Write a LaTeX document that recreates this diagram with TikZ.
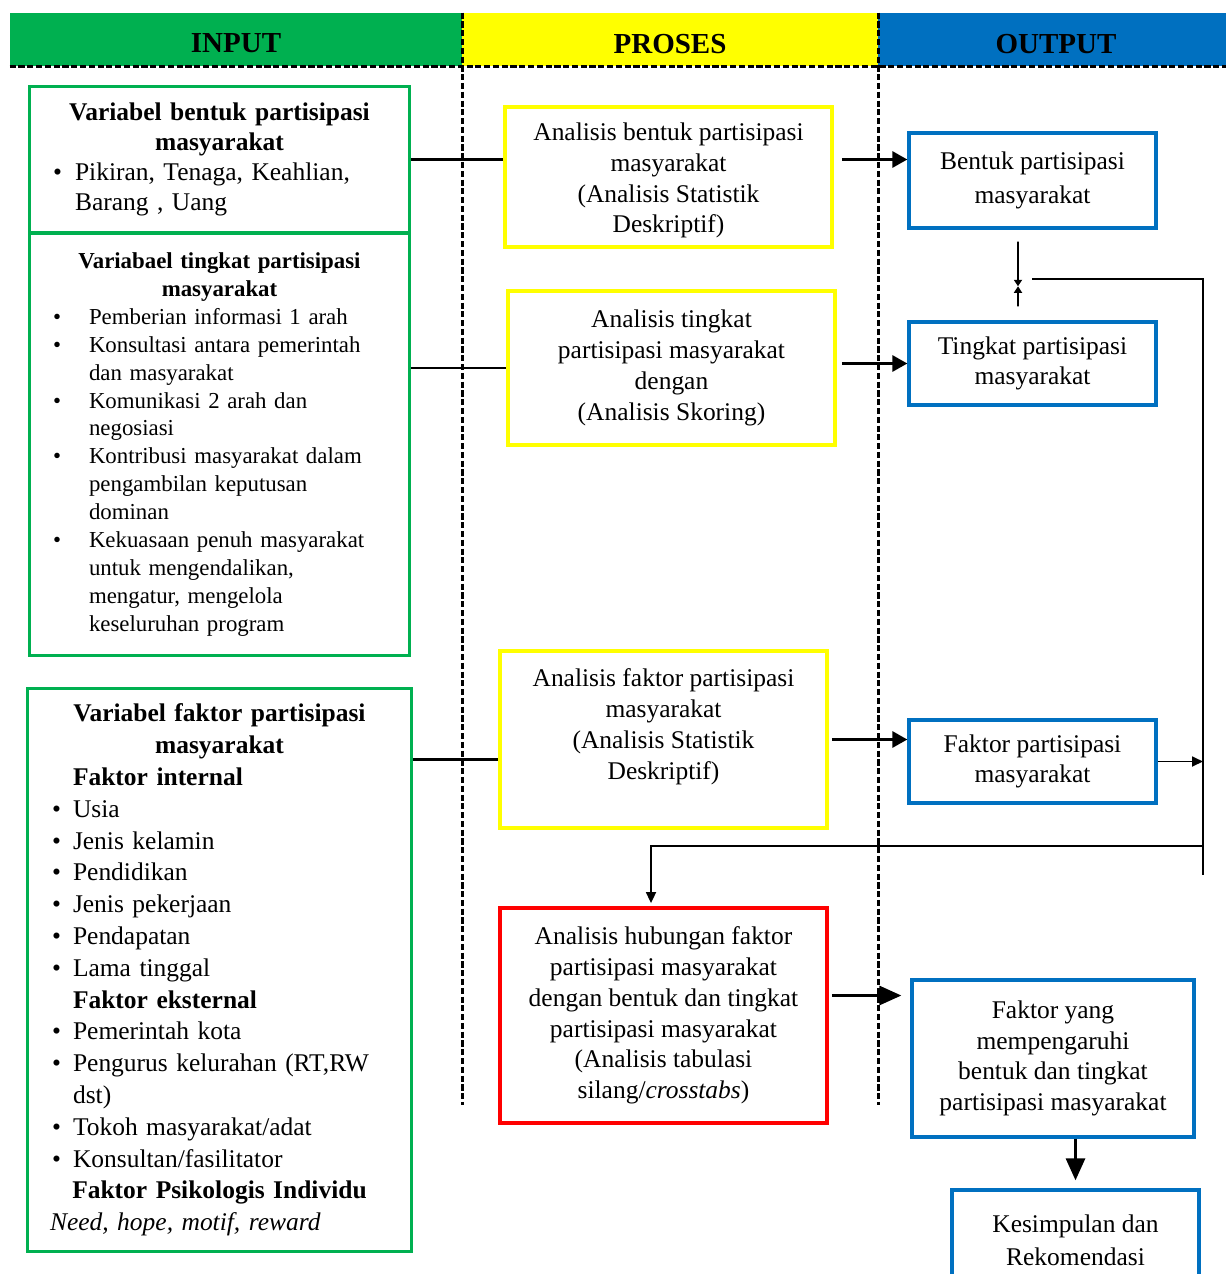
\documentclass[tikz,border=0pt]{standalone}
\usepackage{fontspec}
\setmainfont{Liberation Serif}
\usetikzlibrary{arrows.meta,calc}

\definecolor{inGreen}{HTML}{00B050}
\definecolor{proYellow}{HTML}{FFFF00}
\definecolor{outBlue}{HTML}{0070C0}
\definecolor{hubRed}{HTML}{FF0000}

\newcommand{\itm}[1]{\hspace*{\bulx}\rlap{\textbullet}\hspace*{\dimexpr\txtx-\bulx\relax}#1}
\newcommand{\indt}{\hspace*{\txtx}}
\newcommand{\ttl}[1]{\makebox[\linewidth]{\bfseries #1}}
\newcommand{\hlow}[2]{\raisebox{-#1}[\height][\depth]{#2}}

\begin{document}
\begin{tikzpicture}[x=0.02cm,y=-0.02cm,
		hdr/.style={minimum width=#1,minimum height=1.06cm,inner sep=0pt,font=\fontsize{16.5}{19}\selectfont\bfseries},
		varbox/.style={draw=inGreen,line width=1.7pt,inner xsep=0pt,inner ysep=0pt,align=left},
		list/.style 2 args={execute at begin node={\def\bulx{#1}\def\txtx{#2}}},
		probox/.style={draw=proYellow,line width=2.2pt,minimum width=6.54cm,align=center,font=\fontsize{14.5}{17.5}\selectfont},
		outbox/.style={draw=outBlue,line width=1.9pt,align=center,font=\fontsize{14.5}{17.5}\selectfont},
		colline/.style={line width=1.6pt,dash pattern=on 3.5pt off 1.5pt},
		link/.style={line width=1.7pt},
		arr/.style={link,-{Triangle[length=0.3cm,width=0.32cm]}},
		bigarr/.style={link,-{Triangle[length=0.44cm,width=0.38cm]}},
		back/.style={line width=1pt},
		backarr/.style={back,-{Triangle[length=0.22cm,width=0.2cm]}},
		meet/.style={back,-{Triangle[length=0.13cm,width=0.16cm]}}]

	\useasboundingbox (0,0) rectangle (1226,1274);
	\clip (0,0) rectangle (1226,1274);

	\node[hdr=9.04cm,fill=inGreen] (hIn) at (236,39.5) {\hlow{0.07cm}{INPUT}};
	\node[hdr=8.32cm,fill=proYellow] (hPro) at (670,39.5) {\hlow{0.1cm}{PROSES}};
	\node[hdr=6.96cm,fill=outBlue] (hOut) at (1052,39.5) {\hlow{0.1cm}{\hspace*{0.16cm}OUTPUT}};
	\draw[colline] (hIn.south west) -- (hOut.south east);
	\draw[colline] (hIn.north east) -- ++(0,1092);
	\draw[colline] (hPro.north east) -- ++(0,1092);

	\node[varbox,list={0.48cm}{0.92cm},text width=7.62cm,minimum height=2.94cm,
		font=\fontsize{14.5}{17}\selectfont] (vBentuk) at (219.5,159.5) {%
		\ttl{Variabel bentuk partisipasi}\\
		\ttl{masyarakat}\\
		\itm{Pikiran, Tenaga, Keahlian,}\\
		\indt Barang , Uang};
	\node[varbox,list={0.48cm}{1.2cm},text width=7.62cm,minimum height=8.46cm,
		font=\fontsize{13}{15.9}\selectfont] (vTingkat) at (219.5,444.5) {%
		\ttl{Variabael tingkat partisipasi}\\
		\ttl{masyarakat}\\
		\itm{Pemberian informasi 1 arah}\\
		\itm{Konsultasi antara pemerintah}\\
		\indt dan masyarakat\\
		\itm{Komunikasi 2 arah dan}\\
		\indt negosiasi\\
		\itm{Kontribusi masyarakat dalam}\\
		\indt pengambilan keputusan\\
		\indt dominan\\
		\itm{Kekuasaan penuh masyarakat}\\
		\indt untuk mengendalikan,\\
		\indt mengatur, mengelola\\
		\indt keseluruhan program};
	\node[varbox,list={0.5cm}{0.92cm},text width=7.7cm,minimum height=11.28cm,
		font=\fontsize{14.5}{18.1}\selectfont] (vFaktor) at (219.5,970) {%
		\ttl{Variabel faktor partisipasi}\\
		\ttl{masyarakat}\\
		\indt\textbf{Faktor internal}\\
		\itm{Usia}\\
		\itm{Jenis kelamin}\\
		\itm{Pendidikan}\\
		\itm{Jenis pekerjaan}\\
		\itm{Pendapatan}\\
		\itm{Lama tinggal}\\
		\indt\textbf{Faktor eksternal}\\
		\itm{Pemerintah kota}\\
		\itm{Pengurus kelurahan (RT,RW}\\
		\indt dst)\\
		\itm{Tokoh masyarakat/adat}\\
		\itm{Konsultan/fasilitator}\\
		\ttl{Faktor Psikologis Individu}\\
		\hspace*{0.46cm}\textit{Need, hope, motif, reward}};

	\node[probox,minimum height=2.8cm] (aBentuk) at (668.5,177)
		{\rule{0pt}{0.5cm}Analisis bentuk partisipasi\\ masyarakat\\ (Analisis Statistik\\ Deskriptif)};
	\node[probox,minimum height=3.08cm] (aTingkat) at (671.5,368)
		{Analisis tingkat\\ partisipasi masyarakat\\ dengan\\ (Analisis Skoring)};
	\node[probox,minimum height=3.54cm] (aFaktor) at (663.5,739.5)
		{Analisis faktor partisipasi\\ masyarakat\\ (Analisis Statistik\\ Deskriptif)\\ \mbox{}};
	\node[probox,draw=hubRed,minimum height=4.3cm] (aHub) at (663.5,1015.5)
		{Analisis hubungan faktor\\ partisipasi masyarakat\\ dengan bentuk dan tingkat\\
		partisipasi masyarakat\\ (Analisis tabulasi\\ silang/\textit{crosstabs})};

	\node[outbox,minimum width=4.94cm,minimum height=1.9cm,font=\fontsize{14.5}{19}\selectfont]
		(oBentuk) at (1032.5,180.5) {Bentuk partisipasi\\ masyarakat};
	\node[outbox,minimum width=4.94cm,minimum height=1.66cm] (oTingkat) at (1032.5,363.5)
		{Tingkat partisipasi\\ masyarakat};
	\node[outbox,minimum width=4.94cm,minimum height=1.66cm] (oFaktor) at (1032.5,761.5)
		{Faktor partisipasi\\ masyarakat};
	\node[outbox,minimum width=5.64cm,minimum height=3.14cm] (oPengaruh) at (1053,1058.5)
		{Faktor yang\\ mempengaruhi\\ bentuk dan tingkat\\ partisipasi masyarakat};
	\node[outbox,minimum width=4.94cm,minimum height=2cm,font=\fontsize{14.5}{19}\selectfont]
		(oSimpul) at (1075.5,1240) {Kesimpulan dan\\ Rekomendasi};

	\draw[link] (vBentuk.east) -- (vBentuk.east -| aBentuk.west);
	\draw[arr] ($(aBentuk.east |- vBentuk.east)+(8,0)$) -- (oBentuk.west |- vBentuk.east);
	\draw[link] (vTingkat.east |- aTingkat.west) -- (aTingkat.west);
	\draw[arr] ($(aTingkat.east |- oTingkat.west)+(5,0)$) -- (oTingkat.west);
	\coordinate (fIn) at ([yshift=-0.4cm]aFaktor.west);
	\draw[link] (vFaktor.east |- fIn) -- (fIn);
	\draw[arr] ($(aFaktor.east)+(3,0)$) -- (oFaktor.west |- aFaktor.east);

	\coordinate (dTop) at ([xshift=-0.29cm,yshift=-0.24cm]oBentuk.south);
	\coordinate (dBot) at ([xshift=-0.29cm,yshift=0.28cm]oTingkat.north);
	\coordinate (dMid) at ($(dTop)!0.69!(dBot)$);
	\draw[meet] (dTop) -- (dMid);
	\draw[meet] (dBot) -- (dMid);

	\coordinate (lStart) at (1032,279);
	\coordinate (lTop) at (1203,279);
	\coordinate (lTurn) at (1203,846);
	\coordinate (lBot) at (1203,875);
	\coordinate (hubIn) at ([xshift=-0.25cm,yshift=0.06cm]aHub.north);
	\draw[back] (lStart) -- (lTop) -- (lBot);
	\draw[backarr] (oFaktor.east) -- (oFaktor.east -| lTop);
	\draw[backarr] (lTurn) -- (lTurn -| hubIn) -- (hubIn);

	\coordinate (hubOut) at ([yshift=0.4cm]aHub.east);
	\draw[bigarr] ($(hubOut)+(3,0)$) -- ($(oPengaruh.west |- hubOut)+(-9,0)$);
	\draw[bigarr] (oPengaruh.south -| oSimpul.north) -- ($(oSimpul.north)+(0,-8)$);

\end{tikzpicture}
\end{document}
